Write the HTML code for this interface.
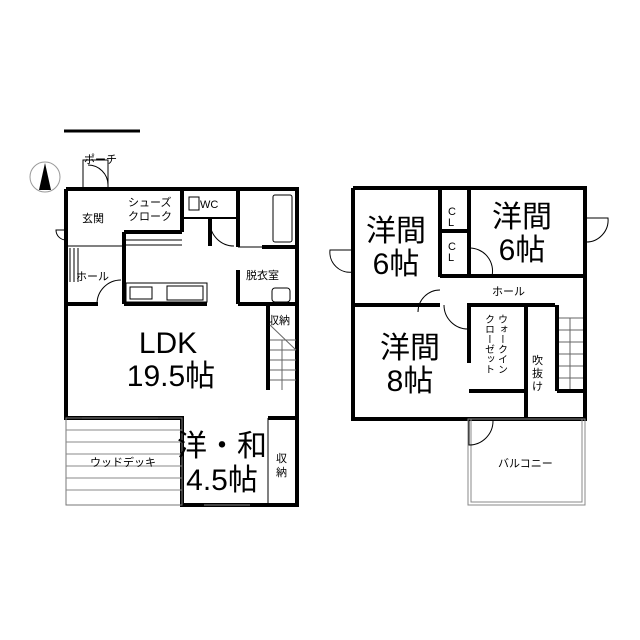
<!DOCTYPE html><html><head><meta charset="utf-8"><style>body{margin:0;background:#fff}svg{display:block}text{font-family:"Liberation Sans","Noto Sans CJK JP",sans-serif;fill:#000;stroke:none;font-weight:normal}</style></head><body>
<svg width="640" height="640" viewBox="0 0 640 640" xmlns="http://www.w3.org/2000/svg">
<g stroke="#000" fill="none">
<line x1="64" y1="131" x2="140" y2="131" stroke-width="3"/>
<circle cx="45" cy="177" r="15" stroke="#999" stroke-width="1"/>
<polygon points="45,163 39,190 51,190" fill="#000" stroke="none"/>
<g stroke-width="4">
<polyline points="66,189 297,189 297,505 182,505 182,418 66,418 66,189"/>
<line x1="124" y1="232" x2="124" y2="304"/>
<line x1="124" y1="232" x2="182" y2="232"/>
<line x1="182" y1="189" x2="182" y2="232"/>
<line x1="238" y1="189" x2="238" y2="247"/>
<line x1="238" y1="270" x2="238" y2="304"/>
<line x1="66" y1="304" x2="98" y2="304"/>
<line x1="124" y1="304" x2="207" y2="304"/>
<line x1="238" y1="304" x2="297" y2="304"/>
<line x1="268" y1="304" x2="268" y2="390"/>
<line x1="262" y1="247" x2="297" y2="247"/>
<line x1="210" y1="218" x2="210" y2="246"/>
<line x1="182" y1="218" x2="238" y2="218" stroke-width="2"/>
<line x1="268" y1="418" x2="297" y2="418"/>
</g>
<g stroke-width="1">
<line x1="66" y1="246" x2="124" y2="246"/>
<line x1="124" y1="240" x2="182" y2="240"/><line x1="124" y1="245" x2="182" y2="245"/>
<line x1="238" y1="247" x2="262" y2="247"/>
<rect x="126" y="283" width="81" height="19"/>
<rect x="130" y="287" width="22" height="12"/><rect x="167" y="286" width="36" height="14"/>
<rect x="189" y="197" width="10" height="13"/>
<rect x="273" y="195" width="19" height="47" rx="2"/>
<rect x="272" y="288" width="18" height="14" rx="3"/>
<rect x="83" y="160" width="25" height="29"/>
<path d="M88 165 A20 20 0 0 1 108 185"/>
<path d="M210 222 A24 24 0 0 0 234 246"/>
<path d="M97 304 A24 24 0 0 1 121 280"/>
<path d="M66 230 H56 A10 10 0 0 0 66 240"/>
<line x1="70" y1="248" x2="70" y2="282"/><line x1="74" y1="248" x2="74" y2="282"/><line x1="78" y1="248" x2="78" y2="282"/>
<line x1="182" y1="418" x2="182" y2="505"/>
<rect x="66" y="418" width="116" height="87" stroke="#777"/>
<g stroke="#888"><line x1="66" y1="430" x2="182" y2="430"/><line x1="66" y1="442" x2="182" y2="442"/><line x1="66" y1="454" x2="182" y2="454"/><line x1="66" y1="466" x2="182" y2="466"/><line x1="66" y1="478" x2="182" y2="478"/><line x1="66" y1="490" x2="182" y2="490"/></g>
<line x1="268" y1="418" x2="268" y2="505"/>
<line x1="82" y1="418" x2="158" y2="418" stroke="#888"/>
<line x1="204" y1="505" x2="250" y2="505" stroke="#888"/>
<g stroke="#666"><line x1="270" y1="340" x2="296" y2="340"/><line x1="270" y1="350" x2="296" y2="350"/><line x1="270" y1="360" x2="296" y2="360"/><line x1="270" y1="370" x2="296" y2="370"/><line x1="270" y1="380" x2="296" y2="380"/><line x1="282" y1="340" x2="282" y2="390"/><line x1="270" y1="325" x2="296" y2="350"/></g>
<g stroke-width="4">
<polyline points="353,188 585,188 585,419 353,419 353,188"/>
<line x1="440" y1="188" x2="440" y2="277"/>
<line x1="469" y1="188" x2="469" y2="277"/>
<line x1="440" y1="231" x2="469" y2="231"/>
<line x1="440" y1="276" x2="585" y2="276"/>
<line x1="353" y1="305" x2="440" y2="305"/>
<line x1="467" y1="305" x2="555" y2="305"/>
<line x1="469" y1="305" x2="469" y2="363"/>
<line x1="469" y1="391" x2="524" y2="391"/>
<line x1="526" y1="305" x2="526" y2="419"/>
<line x1="557" y1="305" x2="557" y2="391"/>
<line x1="557" y1="391" x2="585" y2="391"/>
</g>
<rect x="468" y="419" width="117" height="86" stroke="#888"/>
<rect x="471" y="419" width="111" height="83" stroke="#888"/>
<path d="M469 421 V445 A24 24 0 0 0 493 421"/>
<path d="M353 250 H330 A20 20 0 0 0 353 272"/>
<path d="M585 218 H608 A22 22 0 0 1 585 242"/>
<path d="M440 290 A22 22 0 0 0 418 312"/>
<path d="M469 248 A23 23 0 0 1 492 276"/>
<path d="M444 305 A24 24 0 0 0 468 329"/>
<g stroke="#666"><line x1="559" y1="318" x2="583" y2="318"/><line x1="559" y1="330" x2="583" y2="330"/><line x1="559" y1="342" x2="583" y2="342"/><line x1="559" y1="354" x2="583" y2="354"/><line x1="559" y1="366" x2="583" y2="366"/><line x1="559" y1="378" x2="583" y2="378"/><line x1="570" y1="318" x2="570" y2="389"/></g>
</g>
<g font-size="11">
<text x="84" y="163">ポーチ</text>
<text x="82" y="222">玄関</text>
<text x="128" y="206">シューズ</text><text x="128" y="220">クローク</text>
<text x="200" y="208">WC</text>
<text x="246" y="279">脱衣室</text>
<text x="76" y="280">ホール</text>
<text x="268" y="324">収納</text>
<text x="90" y="466">ウッドデッキ</text>
<text x="276" y="462">収</text><text x="276" y="476">納</text>
<text x="448" y="215">C</text><text x="448" y="226">L</text>
<text x="448" y="250">C</text><text x="448" y="261">L</text>
<text x="492" y="295">ホール</text>
<text x="532" y="364">吹</text><text x="532" y="377">抜</text><text x="532" y="390">け</text>
<text x="498" y="467">バルコニー</text>
<text x="501" y="314" font-size="10" writing-mode="tb">ウォークイン</text>
<text x="488" y="314" font-size="10" writing-mode="tb">クローゼット</text>
</g>
<g font-size="30">
<text x="168" y="353" text-anchor="middle">LDK</text>
<text x="171" y="386" text-anchor="middle">19.5帖</text>
<text x="222" y="456" text-anchor="middle">洋・和</text>
<text x="222" y="490" text-anchor="middle">4.5帖</text>
<text x="396" y="241" text-anchor="middle">洋間</text>
<text x="396" y="274" text-anchor="middle">6帖</text>
<text x="522" y="227" text-anchor="middle">洋間</text>
<text x="522" y="260" text-anchor="middle">6帖</text>
<text x="410" y="358" text-anchor="middle">洋間</text>
<text x="410" y="391" text-anchor="middle">8帖</text>
</g>
</svg></body></html>
